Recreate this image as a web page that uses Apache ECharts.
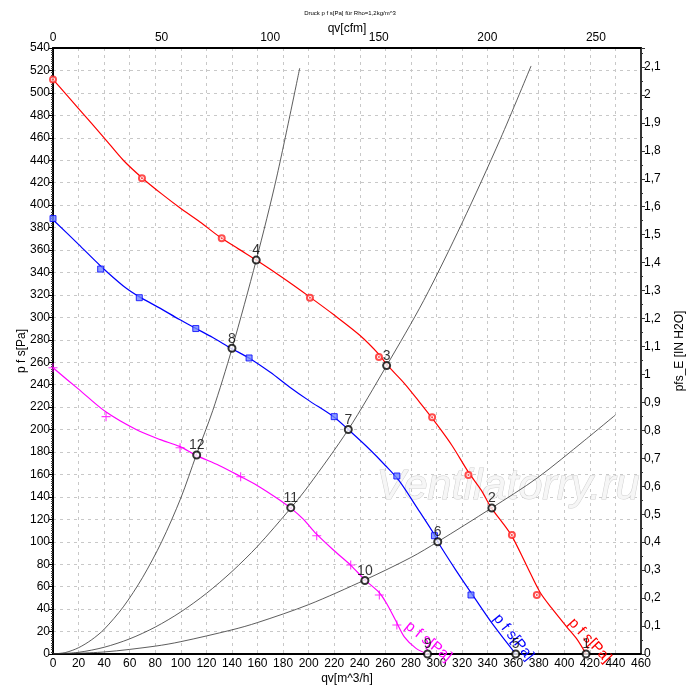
<!DOCTYPE html>
<html><head><meta charset="utf-8">
<script src="https://cdn.jsdelivr.net/npm/echarts@6/dist/echarts.min.js"></script>
<style>html,body{margin:0;padding:0;background:#fff}#c{width:700px;height:696px}</style>
</head><body><div id="c"></div>
<script>
// Fan curves (qv [m^3/h], p [Pa])
const redLine = [[0,512],[20,486],[40,460],[55,440],[70,424],[85,410],[100,397],[115,385],[130,372],[145,361],[159,351],[180,335],[201,318],[220,302],[240,284],[255,267],[261,258],[275,241],[287,224],[300,205],[312,186],[325,162],[335,146],[343,130],[351,118],[359,105],[370,80],[381,55],[390,41],[402,24],[410,13],[417,0]];
const blueLine = [[0,387],[20,365],[37,346],[55,328],[68,318],[84,308],[99,298],[112,290],[125,282],[140,272],[153,264],[170,251],[185,238],[200,226],[220,211],[231,200],[248,182],[260,168],[271,154],[285,130],[298,107],[301,100],[315,75],[331,48],[345,25],[362,0]];
const magentaLine = [[0,255],[20,236],[41,216],[65,200],[84,191],[99,185],[112,177],[130,168],[147,158],[160,150],[175,139],[186,130],[196,120],[206,107],[220,92],[233,79],[244,66],[255,55],[261,45],[268,30],[275,15],[284,5],[293,0]];
// measured points
const redPts = [[0,512],[69.6,424],[132,370.4],[201,317.5],[255,264.7],[296.6,211],[325,159.5],[359,106],[378.5,52.6]];
const bluePts = [[0,388],[37.3,343],[67.5,317.5],[111.7,290],[153.4,263.8],[220,211.5],[269,158.6],[298.4,105.4],[327,52.6]];
const magentaPts = [[0,255],[41.5,211.5],[99.4,183.8],[146.8,158],[206.3,105.4],[232.9,79.3],[255.3,52.6],[269,25.8]];
// system curves
const sysA = [[0,0],[10,1.4],[20,5.6],[30,12.5],[40,22],[55,42],[70,68],[85,100],[100,139],[112,177],[125,217],[140,272],[159,351],[175,425],[193,522]];
const sysB = [[0,0],[20,1.5],[40,6],[60,13.5],[80,24],[100,37.5],[120,54],[140,73.5],[160,96],[186,130],[200,150],[231,200],[261,257],[290,315],[320,384],[350,459],[374,524]];
const sysC = [[0,0],[40,1.8],[80,7],[100,11],[140,21.5],[160,28],[200,44],[244,66],[280,86],[301,100],[343,130],[379,157],[416,190.5],[440,213]];
// operating points
const opNames = ['1','2','3','4','5','6','7','8','9','10','11','12'];
const opQv = [417,343.3,261,159,362,301,231,140,293,244,186,112.4];
const opP  = [0,130,257,351,0,100,200,272.5,0,65.5,130.4,177.3];
// axis ticks
const xTicks = {min:0, max:460, step:20};
const yTicks = {min:0, max:540, step:20};
const cfmPerM3h = 1/1.699;
const inH2OPerPa = 1/249.0889;

const FONT = 'Liberation Sans, Arial, sans-serif';
const chart = echarts.init(document.getElementById('c'));
const lineS = (data, color, w) => ({type:'line', data, xAxisIndex:0, yAxisIndex:0, showSymbol:false, smooth:0.3, lineStyle:{color, width:w}, silent:true, z:3});
const labelS = (pt, color, rot) => ({type:'scatter', data:[pt], symbol:'circle', symbolSize:1, itemStyle:{opacity:0}, xAxisIndex:0, yAxisIndex:0, silent:true, z:6,
  label:{show:true, position:'inside', formatter:'p f s[Pa]', rotate:rot, color, fontSize:15, fontFamily:FONT, opacity:1}});

chart.setOption({
  animation:false,
  backgroundColor:'#fff',
  grid:{left:53, right:59, top:48, bottom:42, containLabel:false},
  graphic:[
    {type:'text', left:'center', top:10, z:10, style:{text:'Druck p f s[Pa] für Rho=1,2kg/m^3', font:'6px '+FONT, fill:'#000'}},
    {type:'text', x:508, y:487, z:1, style:{text:'Ventilatorry.ru', font:'italic 43px '+FONT, fill:'#f6f6f6', stroke:'#cfcfcf', lineWidth:1, align:'center', verticalAlign:'middle'}}
  ],
  xAxis:[
    {type:'value', position:'bottom', min:xTicks.min, max:xTicks.max, interval:xTicks.step,
     name:'qv[m^3/h]', nameLocation:'middle', nameGap:19, nameMoveOverlap:false, nameTextStyle:{fontSize:12, color:'#000', fontFamily:FONT},
     axisLine:{onZero:false, lineStyle:{color:'#000', width:2}}, axisTick:{show:false},
     axisLabel:{color:'#000', fontSize:12, margin:4, fontFamily:FONT},
     splitLine:{show:true, lineStyle:{color:'#c8c8c8', type:[3,4], width:1}}},
    {type:'value', position:'top', min:0, max:xTicks.max*cfmPerM3h, interval:50,
     name:'qv[cfm]', nameLocation:'middle', nameGap:13, nameMoveOverlap:false, nameTextStyle:{fontSize:12, color:'#000', fontFamily:FONT},
     axisLine:{onZero:false, lineStyle:{color:'#000', width:2}}, axisTick:{show:false},
     axisLabel:{color:'#000', fontSize:12, margin:4, showMaxLabel:false, fontFamily:FONT},
     splitLine:{show:false}}
  ],
  yAxis:[
    {type:'value', position:'left', min:yTicks.min, max:yTicks.max, interval:yTicks.step,
     name:'p f s[Pa]', nameLocation:'middle', nameGap:25, nameMoveOverlap:false, nameRotate:90, nameTextStyle:{fontSize:12, color:'#000', fontFamily:FONT},
     axisLine:{onZero:false, lineStyle:{color:'#000', width:2}},
     axisTick:{show:true, length:4, lineStyle:{color:'#000'}},
     minorTick:{show:true, splitNumber:10, length:2, lineStyle:{color:'#444'}},
     axisLabel:{color:'#000', fontSize:12, margin:3, fontFamily:FONT},
     splitLine:{show:true, lineStyle:{color:'#c8c8c8', type:[3,4], width:1}}},
    {type:'value', position:'right', min:0, max:yTicks.max*inH2OPerPa, interval:0.1,
     name:'pfs_E [IN H2O]', nameLocation:'middle', nameGap:33, nameMoveOverlap:false, nameRotate:90, nameTextStyle:{fontSize:12, color:'#000', fontFamily:FONT},
     axisLine:{onZero:false, lineStyle:{color:'#333', width:2}},
     axisTick:{show:true, length:4, lineStyle:{color:'#333'}},
     minorTick:{show:true, splitNumber:2, length:2, lineStyle:{color:'#333'}},
     axisLabel:{color:'#000', fontSize:12, margin:3, showMaxLabel:false, fontFamily:FONT,
       formatter:v=>String(+v.toFixed(1)).replace('.',',')},
     splitLine:{show:false}}
  ],
  series:[
    lineS(sysA,'#333',0.8), lineS(sysB,'#333',0.8), lineS(sysC,'#333',0.8),
    lineS(redLine,'#ff0000',1.2), lineS(blueLine,'#0000ff',1.2), lineS(magentaLine,'#ff00ff',1.2),
    {type:'scatter', data:redPts, symbol:'emptyCircle', symbolSize:6, itemStyle:{color:'#ff2020', borderWidth:1}, silent:true, z:4},
    {type:'scatter', data:redPts, symbol:'circle', symbolSize:2, itemStyle:{color:'#ff2020'}, silent:true, z:5},
    {type:'scatter', data:bluePts, symbol:'rect', symbolSize:6, itemStyle:{color:'#6f86ff', borderColor:'#0000ff', borderWidth:1}, silent:true, z:4},
    {type:'scatter', data:magentaPts, symbol:'path://M-0.6,-5H0.6V-0.6H5V0.6H0.6V5H-0.6V0.6H-5V-0.6H-0.6Z', symbolSize:9, itemStyle:{color:'#ff00ff'}, silent:true, z:4},
    {type:'scatter', data:opNames.map((n,i)=>({name:n, value:[opQv[i], opP[i]]})), symbol:'emptyCircle', symbolSize:7,
     itemStyle:{color:'#000', borderColor:'#000', borderWidth:0.8}, silent:true, z:7,
     label:{show:true, position:'top', distance:-2, formatter:'{b}', color:'#000', fontSize:14, fontFamily:FONT}},
    labelS([293.7,11],'#ff00ff',-39), labelS([360.2,14.9],'#0000ff',-51), labelS([420,12],'#ff0000',-47)
  ]
});
</script></body></html>
